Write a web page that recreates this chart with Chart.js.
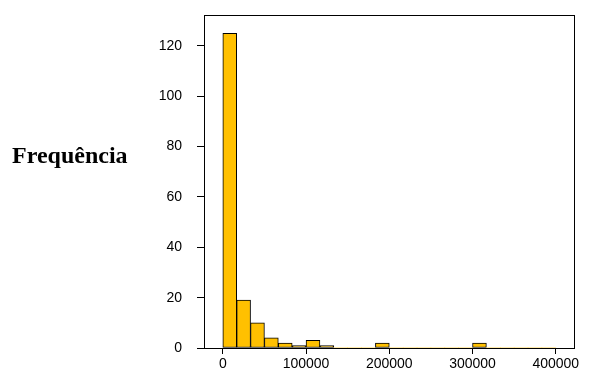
<!DOCTYPE html>
<html>
<head>
<meta charset="utf-8">
<script src="https://cdn.jsdelivr.net/npm/chart.js@4"></script>
<style>
  html, body { margin: 0; padding: 0; background: #fff; }
  #wrap { position: relative; width: 592px; height: 372px; }
  #ylabel { position: absolute; left: 12px; top: 142px; font: bold 24px "Liberation Serif", "Times New Roman", serif; color: #000; white-space: nowrap; }
</style>
</head>
<body>
<div id="wrap">
  <canvas id="c" width="592" height="372"></canvas>
  <div id="ylabel">Frequência</div>
</div>
<script>
// Histogram bins: width 100000/6, starting at 0
const binWidth = 100000 / 6;
const counts = [125, 19, 10, 4, 2, 1, 3, 1, 0, 0, 0, 2, 0, 0, 0, 0, 0, 0, 2, 0, 0, 0, 0, 0];
const xTickValues = [0, 100000, 200000, 300000, 400000];
const yTickValues = [0, 20, 40, 60, 80, 100, 120];
const yAxisTitle = "Frequência";

const binCenters = counts.map((_, i) => (i + 0.5) * binWidth);
const points = binCenters.map((x, i) => ({ x: x, y: counts[i] }));

document.getElementById('ylabel').textContent = yAxisTitle;

const framePlugin = {
  id: 'frame',
  afterDraw(chart) {
    const a = chart.chartArea, ctx = chart.ctx;
    ctx.save();
    ctx.strokeStyle = '#000';
    ctx.lineWidth = 1;
    ctx.strokeRect(Math.round(a.left) + 0.5, Math.round(a.top) + 0.5, Math.round(a.right - a.left), Math.round(a.bottom - a.top));
    ctx.restore();
  }
};

const tickFont = { family: '"Liberation Sans", Arial, sans-serif', size: 14 };

new Chart(document.getElementById('c'), {
  type: 'bar',
  data: {
    datasets: [{
      data: points,
      backgroundColor: '#FFC000',
      borderColor: '#000',
      borderWidth: ctx => (ctx.raw && ctx.raw.y > 0 ? 1 : 0),
      borderSkipped: false,
      barPercentage: 1,
      categoryPercentage: 1
    }]
  },
  options: {
    responsive: false,
    animation: false,
    events: [],
    layout: { padding: { left: 144, right: 18, top: 15, bottom: 0 } },
    plugins: { legend: { display: false }, tooltip: { enabled: false } },
    scales: {
      x: {
        type: 'linear',
        offset: false,
        min: -22600,
        max: 421900,
        afterBuildTicks: s => { s.ticks = xTickValues.map(v => ({ value: v })); },
        afterFit: s => { s.height = 24; },
        ticks: { font: tickFont, color: '#000', padding: 2, maxRotation: 0, autoSkip: false, callback: v => String(v) },
        grid: { display: true, offset: false, drawOnChartArea: false, drawTicks: true, tickLength: 6, color: '#000' },
        border: { display: true, color: '#000' }
      },
      y: {
        min: 0,
        max: 132.3,
        afterBuildTicks: s => { s.ticks = yTickValues.map(v => ({ value: v })); },
        afterFit: s => { s.width = 60; s.paddingTop = 0; s.paddingBottom = 0; },
        ticks: { font: tickFont, color: '#000', padding: 15, callback: v => String(v) },
        grid: { display: true, drawOnChartArea: false, drawTicks: true, tickLength: 7, color: '#000' },
        border: { display: true, color: '#000' }
      }
    }
  },
  plugins: [framePlugin]
});
</script>
</body>
</html>
